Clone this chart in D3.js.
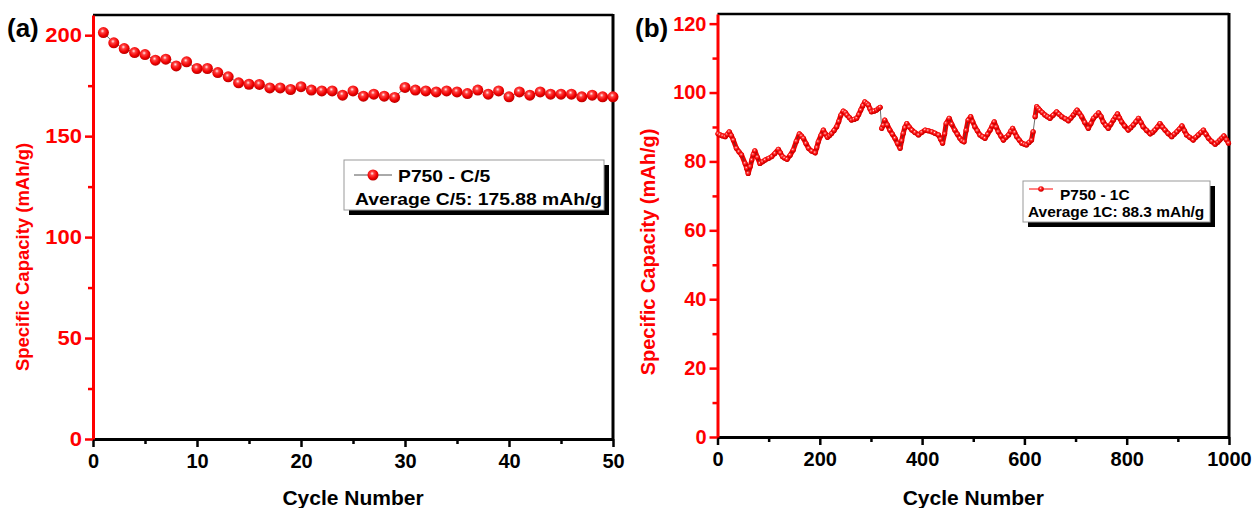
<!DOCTYPE html>
<html>
<head>
<meta charset="utf-8">
<script src="https://cdn.jsdelivr.net/npm/d3@7"></script>
<style>
  body { margin: 0; background: #fff; }
  svg { display: block; }
  svg text { font-family: "Liberation Sans", Arial, sans-serif; font-weight: bold; }
</style>
</head>
<body>
<svg id="chart" width="1253" height="508"></svg>
<script>
// panel (a): C/5, cycles 1..50
var cyclesA = d3.range(1, 51);
var capA = [201.3, 196.2, 193.4, 191.4, 190.4, 187.6, 188.1, 184.8, 186.8, 183.5,
	183.5, 181.5, 179.4, 176.4, 175.7, 175.6, 173.9, 173.9, 173.1, 174.5,
	172.8, 172.4, 172.4, 170.3, 172.4, 169.8, 170.8, 169.8, 169.2, 174.1,
	172.8, 172.4, 171.9, 172.4, 171.9, 171.1, 172.8, 170.8, 172.4, 169.5,
	171.9, 170.3, 171.9, 170.8, 170.8, 170.8, 169.5, 170.3, 169.5, 169.5];

// panel (b): 1C
var cyclesB = [1, 5, 10, 15, 19, 23, 27, 31, 37, 42, 47, 54, 57, 60, 64, 67, 70, 73, 78, 83,
	88, 93, 100, 106, 112, 119, 123, 127, 131, 136, 142, 148, 154, 160, 164, 168, 173, 178, 184, 191,
	194, 197, 202, 207, 211, 215, 219, 223, 228, 233, 237, 241, 246, 250, 253, 258, 262, 267, 272, 276,
	280, 284, 288, 292, 295, 298, 301, 306, 311, 315, 318, 321, 324, 327, 332, 337, 342, 347, 352, 357,
	360, 363, 366, 370, 375, 380, 386, 393, 399, 406, 412, 419, 425, 432, 436, 440, 444, 447, 453, 458,
	464, 469, 474, 478, 482, 486, 490, 495, 499, 503, 508, 513, 518, 523, 528, 533, 537, 541, 545, 549,
	554, 559, 564, 569, 573, 577, 581, 585, 590, 595, 600, 604, 609, 614, 617, 621, 624, 627, 630, 635,
	640, 645, 650, 656, 663, 668, 673, 680, 686, 691, 696, 700, 703, 708, 712, 718, 725, 730, 735, 740,
	745, 750, 754, 759, 764, 769, 774, 778, 782, 786, 790, 796, 803, 808, 813, 818, 823, 828, 832, 839,
	846, 851, 855, 860, 865, 870, 875, 881, 888, 893, 898, 903, 908, 913, 917, 923, 930, 935, 940, 945,
	950, 955, 960, 966, 973, 978, 982, 986, 990, 995, 999];
var capB = [88.0, 87.7, 87.4, 87.2, 87.8, 88.6, 87.5, 86.2, 83.8, 82.8, 81.9, 79.4, 78.0, 76.5, 78.5, 80.4, 82.0, 83.1, 81.2, 79.4,
	79.9, 80.4, 80.9, 81.4, 82.3, 83.5, 82.5, 81.4, 81.0, 80.6, 81.8, 83.3, 85.8, 88.0, 87.4, 86.7, 85.2, 83.8, 83.0, 82.5,
	84.0, 85.7, 87.5, 89.1, 88.0, 87.0, 87.5, 88.1, 89.0, 90.1, 91.6, 93.4, 94.6, 94.2, 93.5, 92.7, 92.0, 92.2, 92.5, 93.6,
	94.9, 96.2, 97.3, 96.8, 96.4, 95.3, 94.4, 94.6, 94.9, 95.4, 95.7, 89.6, 90.5, 92.0, 90.6, 89.1, 87.9, 86.7, 85.2, 83.8,
	86.0, 88.1, 89.8, 91.0, 90.0, 89.1, 88.4, 87.7, 88.4, 89.1, 88.9, 88.6, 88.2, 87.7, 86.5, 85.3, 88.0, 91.0, 92.5, 90.8,
	89.1, 87.9, 86.7, 86.0, 85.7, 89.0, 92.0, 93.0, 91.5, 90.1, 88.9, 87.7, 87.2, 86.7, 87.9, 89.1, 90.3, 91.5, 90.0, 88.6,
	87.4, 86.2, 87.0, 87.7, 88.7, 89.6, 88.4, 87.2, 86.2, 85.3, 85.0, 84.8, 85.5, 86.2, 88.6, 93.0, 95.9, 95.4, 94.9, 94.2,
	93.5, 93.0, 92.5, 93.4, 94.4, 93.7, 93.0, 92.4, 91.8, 92.6, 93.5, 94.3, 94.9, 93.9, 93.0, 91.3, 89.6, 91.0, 92.5, 93.3,
	94.1, 93.0, 91.5, 90.5, 89.6, 90.8, 92.0, 92.9, 93.8, 92.6, 91.5, 90.3, 89.1, 89.8, 90.6, 91.5, 92.5, 91.3, 90.1, 89.0,
	88.0, 88.5, 89.1, 90.0, 91.0, 90.0, 89.1, 88.1, 87.2, 87.9, 88.6, 89.4, 90.3, 88.9, 87.7, 87.0, 86.2, 87.0, 87.7, 88.4,
	89.1, 87.9, 86.7, 85.8, 85.0, 85.6, 86.2, 86.8, 87.4, 86.3, 85.3];
// the two places where the 1C curve jumps (drawn with a thin line only)
var jumpsB = [318, 617];

var yTicksA = [0, 50, 100, 150, 200], yMinorA = [25, 75, 125, 175];
var xTicksA = [0, 10, 20, 30, 40, 50], xMinorA = [5, 15, 25, 35, 45];
var yTicksB = [0, 20, 40, 60, 80, 100, 120], yMinorB = [10, 30, 50, 70, 90, 110];
var xTicksB = [0, 200, 400, 600, 800, 1000], xMinorB = [100, 300, 500, 700, 900];

var RED = "#ff0000";
var FONT = "'Liberation Sans', Arial, sans-serif";
var svg = d3.select("#chart");

// shiny ball gradient
var grad = svg.append("defs").append("radialGradient")
	.attr("id", "ball").attr("cx", "0.42").attr("cy", "0.38").attr("r", "0.62")
	.attr("fx", "0.42").attr("fy", "0.36");
grad.append("stop").attr("offset", "0%").attr("stop-color", "#fff0f0");
grad.append("stop").attr("offset", "28%").attr("stop-color", "#ff4040");
grad.append("stop").attr("offset", "70%").attr("stop-color", "#f00000");
grad.append("stop").attr("offset", "100%").attr("stop-color", "#b80000");

// widen glyphs a bit, the source figure is stretched sideways
function stretch(sel, k) {
	sel.each(function() {
		var w = this.getComputedTextLength();
		d3.select(this).attr("textLength", w * k).attr("lengthAdjust", "spacingAndGlyphs");
	});
}

function drawPanel(p) {
	var x = d3.scaleLinear().domain(p.xDomain).range([p.left, p.right]);
	var y = d3.scaleLinear().domain(p.yDomain).range([p.bottom, p.top]);
	var g = svg.append("g");

	// frame: top + right black
	g.append("line").attr("x1", p.left).attr("x2", p.right).attr("y1", p.top).attr("y2", p.top)
		.attr("stroke", "#000").attr("stroke-width", 2.5);
	g.append("line").attr("x1", p.right).attr("x2", p.right).attr("y1", p.top - 1).attr("y2", p.bottom)
		.attr("stroke", "#000").attr("stroke-width", 3);

	// minor ticks
	g.append("g").attr("transform", "translate(0," + p.bottom + ")")
		.call(d3.axisBottom(x).tickValues(p.xMinor).tickSize(5).tickFormat(""))
		.call(function(a) { a.select(".domain").remove(); a.selectAll("line").attr("stroke", "#000").attr("stroke-width", 2.5); });
	g.append("g").attr("transform", "translate(" + p.left + ",0)")
		.call(d3.axisLeft(y).tickValues(p.yMinor).tickSize(5).tickFormat(""))
		.call(function(a) { a.select(".domain").remove(); a.selectAll("line").attr("stroke", RED).attr("stroke-width", 2.5); });

	// x axis
	var xa = g.append("g").attr("transform", "translate(0," + p.bottom + ")")
		.call(d3.axisBottom(x).tickValues(p.xTicks).tickFormat(d3.format("d"))
			.tickSize(8).tickSizeOuter(0).tickPadding(7));
	xa.select(".domain").attr("stroke", "#000").attr("stroke-width", 3);
	xa.selectAll("line").attr("stroke", "#000").attr("stroke-width", 2.5);
	xa.selectAll("text").attr("fill", "#000")
		.style("font-family", FONT).style("font-size", "20px").style("font-weight", "bold");

	// y axis
	var ya = g.append("g").attr("transform", "translate(" + p.left + ",0)")
		.call(d3.axisLeft(y).tickValues(p.yTicks).tickSize(8).tickSizeOuter(0).tickPadding(3));
	ya.select(".domain").attr("stroke", RED).attr("stroke-width", 3);
	ya.selectAll("line").attr("stroke", RED).attr("stroke-width", 2.5);
	ya.selectAll("text").attr("fill", RED)
		.style("font-family", FONT).style("font-size", "20px").style("font-weight", "bold")
		.call(stretch, p.yTickStretch);

	// titles
	g.append("text").attr("x", (p.left + p.right) / 2).attr("y", 505)
		.attr("text-anchor", "middle").style("font-size", "21px").attr("fill", "#000")
		.text("Cycle Number");
	g.append("text").attr("transform", "translate(" + p.yTitleX + "," + p.yTitleY + ") rotate(-90)")
		.attr("text-anchor", "middle").style("font-size", p.yTitleSize).attr("fill", RED)
		.text("Specific Capacity (mAh/g)");
	g.append("text").attr("x", p.tagX).attr("y", 37).style("font-size", "26px").attr("fill", "#000")
		.text(p.tag);

	// series
	var line = d3.line()
		.x(function(d) { return x(d[0]); })
		.y(function(d) { return y(d[1]); });
	var pts = d3.zip(p.xs, p.ys);
	if (p.band) {
		// dense markers merge into a band: split it where the curve jumps
		var segs = [], cur = [];
		pts.forEach(function(d) {
			cur.push(d);
			if (p.jumps.indexOf(d[0]) >= 0) { segs.push(cur); cur = []; }
		});
		segs.push(cur);
		g.append("g").selectAll("path").data(segs).join("path")
			.attr("d", line).attr("fill", "none").attr("stroke", "#f00000")
			.attr("stroke-width", p.band).attr("stroke-linejoin", "round").attr("stroke-linecap", "round");
	}
	g.append("path").datum(pts).attr("d", line)
		.attr("fill", "none").attr("stroke", "#444").attr("stroke-width", 0.8);
	g.append("g").selectAll("circle").data(pts).join("circle")
		.attr("cx", function(d) { return x(d[0]); })
		.attr("cy", function(d) { return y(d[1]); })
		.attr("r", p.r)
		.attr("fill", "url(#ball)");

	// legend
	var L = p.legend;
	g.append("rect").attr("x", L.x + 5).attr("y", L.y + 5).attr("width", L.w).attr("height", L.h).attr("fill", "#000");
	g.append("rect").attr("x", L.x).attr("y", L.y).attr("width", L.w).attr("height", L.h)
		.attr("fill", "#fff").attr("stroke", "#999").attr("stroke-width", 1);
	g.append("line").attr("x1", L.x + L.lineX0).attr("x2", L.x + L.lineX1)
		.attr("y1", L.y + L.symY).attr("y2", L.y + L.symY)
		.attr("stroke", L.lineColor).attr("stroke-width", 1);
	g.append("circle").attr("cx", L.x + (L.lineX0 + L.lineX1) / 2).attr("cy", L.y + L.symY)
		.attr("r", L.symR).attr("fill", "url(#ball)");
	g.append("text").attr("x", L.x + L.t1x).attr("y", L.y + L.t1y).style("font-size", L.size).attr("fill", "#000")
		.text(L.t1).call(stretch, L.k);
	g.append("text").attr("x", L.x + L.t2x).attr("y", L.y + L.t2y).style("font-size", L.size).attr("fill", "#000")
		.text(L.t2).call(stretch, L.k);
}

drawPanel({
	left: 93, right: 613, top: 15, bottom: 439,
	xDomain: [0, 50], yDomain: [0, 210],
	xTicks: xTicksA, xMinor: xMinorA, yTicks: yTicksA, yMinor: yMinorA,
	xs: cyclesA, ys: capA, r: 5.5, band: 0, jumps: [],
	yTickStretch: 1.1,
	yTitleX: 29, yTitleY: 257, yTitleSize: "18.5px",
	tag: "(a)", tagX: 7,
	legend: { x: 344, y: 160, w: 260, h: 50, lineX0: 10, lineX1: 48, symY: 15, symR: 5.5,
		lineColor: "#555", size: "16.5px", k: 1.17,
		t1: "P750 - C/5", t1x: 54, t1y: 22, t2: "Average C/5: 175.88 mAh/g", t2x: 11, t2y: 45 }
});

drawPanel({
	left: 717.5, right: 1229, top: 14, bottom: 437,
	xDomain: [0, 1000], yDomain: [0, 122.8],
	xTicks: xTicksB, xMinor: xMinorB, yTicks: yTicksB, yMinor: yMinorB,
	xs: cyclesB, ys: capB, r: 2.6, band: 5, jumps: jumpsB,
	yTickStretch: 1.0,
	yTitleX: 655, yTitleY: 252, yTitleSize: "20px",
	tag: "(b)", tagX: 635,
	legend: { x: 1023, y: 181, w: 187, h: 41, lineX0: 6, lineX1: 30, symY: 8, symR: 2.8,
		lineColor: RED, size: "15px", k: 1.03,
		t1: "P750 - 1C", t1x: 37, t1y: 19, t2: "Average 1C: 88.3 mAh/g", t2x: 5, t2y: 36 }
});
</script>
</body>
</html>
